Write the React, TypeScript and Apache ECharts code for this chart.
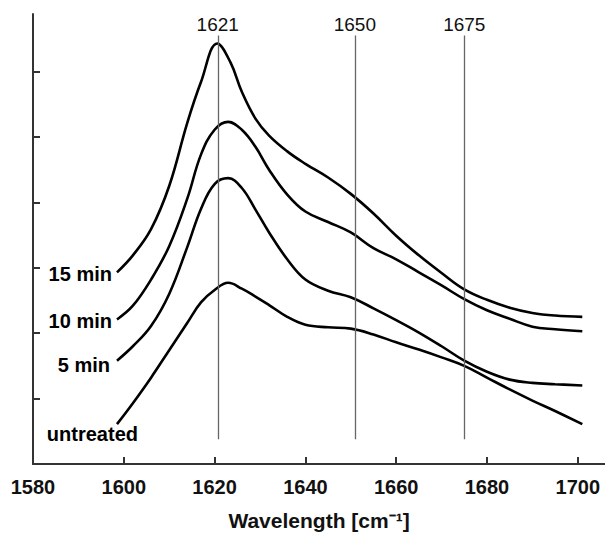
import React, { useEffect, useRef } from "react";
import * as echarts from "echarts";

const xTickLabels = [1580, 1600, 1620, 1640, 1660, 1680, 1700];
const xTickMarks = [1600, 1620, 1640, 1660, 1680, 1700];
const yTickMarks = [1, 2, 3, 4, 5, 6];

const refLineX = [1620.7, 1650.9, 1675];
const refLineLabels = ["1621", "1650", "1675"];

const seriesNames = ["15 min", "10 min", "5 min", "untreated"];

const min15: number[][] = [
  [1598.5, 2.93], [1602, 3.19], [1606, 3.59], [1610, 4.25], [1614, 5.22], [1617, 5.84],
  [1620.6, 6.43], [1623.5, 6.14], [1626, 5.69], [1629, 5.28],
  [1632, 5.02], [1636, 4.78], [1640, 4.59], [1645, 4.38], [1650, 4.13], [1655, 3.83],
  [1660, 3.49], [1665, 3.19], [1670, 2.92], [1675, 2.67], [1680, 2.51], [1685, 2.39],
  [1690, 2.31], [1695, 2.27], [1701, 2.25],
];

const min10: number[][] = [
  [1598.5, 2.21], [1602, 2.42], [1606, 2.82], [1610, 3.33], [1614, 4.06], [1617, 4.73],
  [1620, 5.11], [1623, 5.23], [1626, 5.11], [1629, 4.85], [1632, 4.5], [1636, 4.12],
  [1640, 3.86], [1645, 3.7], [1650, 3.54], [1655, 3.3], [1660, 3.13], [1665, 2.93],
  [1670, 2.73], [1675, 2.52], [1680, 2.35], [1685, 2.22], [1690, 2.1], [1695, 2.06],
  [1701, 2.03],
];

const min5: number[][] = [
  [1598.5, 1.58], [1602, 1.8], [1606, 2.11], [1610, 2.6], [1614, 3.32], [1617, 3.9],
  [1620, 4.28], [1623, 4.37], [1626, 4.22], [1629, 3.89], [1632, 3.54], [1636, 3.13],
  [1640, 2.82], [1645, 2.65], [1650, 2.55], [1655, 2.38], [1660, 2.2], [1665, 2.01],
  [1670, 1.8], [1675, 1.58], [1680, 1.41], [1685, 1.29], [1690, 1.24], [1695, 1.22],
  [1701, 1.2],
];

const untreated: number[][] = [
  [1598.5, 0.61], [1602, 0.93], [1606, 1.32], [1610, 1.74], [1614, 2.16], [1617, 2.47],
  [1620, 2.66], [1623, 2.77], [1626, 2.68], [1629, 2.56], [1632, 2.43], [1636, 2.25],
  [1640, 2.13], [1645, 2.09], [1650, 2.07], [1655, 1.98], [1660, 1.86], [1665, 1.75],
  [1670, 1.63], [1675, 1.5], [1680, 1.32], [1685, 1.14], [1690, 0.97], [1695, 0.81],
  [1701, 0.61],
];

const allSeries = [min15, min10, min5, untreated];
const labelOffsets = [[0, 2], [0, 2], [-2, 4], [26, 10]];

const FONT = "'Liberation Sans', Arial, sans-serif";

export default function App() {
  const ref = useRef<HTMLDivElement>(null);
  useEffect(() => {
    if (!ref.current) return;
    const chart = echarts.init(ref.current, null, { renderer: "svg" });
    const series: any[] = allSeries.map((pts, si) => ({
      type: "line",
      name: seriesNames[si],
      smooth: 0.4,
      symbol: "circle",
      symbolSize: 0,
      showSymbol: true,
      showAllSymbol: true,
      lineStyle: { color: "#000", width: 2.6 },
      itemStyle: { color: "#000" },
      label: { show: false },
      emphasis: { disabled: true },
      data: pts.map((p, i) =>
        i === 0
          ? {
              value: p,
              label: {
                show: true,
                position: "left",
                distance: 5,
                offset: labelOffsets[si],
                formatter: seriesNames[si],
                fontFamily: FONT,
                fontWeight: "bold",
                fontSize: 20,
                color: "#000",
              },
            }
          : { value: p }
      ),
    }));
    series[3].markLine = {
      silent: true,
      symbol: "none",
      animation: false,
      lineStyle: { color: "#666", width: 1.3, type: "solid" },
      label: {
        show: true,
        position: "end",
        distance: 2,
        formatter: (p: any) => refLineLabels[p.dataIndex],
        fontFamily: FONT,
        fontSize: 19,
        color: "#111",
      },
      data: refLineX.map((x) => [{ coord: [x, 0.38] }, { coord: [x, 6.55] }]),
    };
    chart.setOption({
      animation: false,
      grid: { left: 33, right: 0, top: 14, bottom: 71, containLabel: false },
      xAxis: {
        type: "value",
        min: 1580,
        max: 1706,
        interval: 20,
        name: "Wavelength [cm⁻¹]",
        nameLocation: "middle",
        nameGap: 46,
        nameTextStyle: { fontFamily: FONT, fontWeight: "bold", fontSize: 21, color: "#111" },
        axisLine: { lineStyle: { color: "#333", width: 2 } },
        axisTick: { inside: true, length: 7, customValues: xTickMarks, lineStyle: { color: "#333", width: 2 } },
        axisLabel: {
          customValues: xTickLabels,
          formatter: (v: number) => String(v),
          margin: 13,
          fontFamily: FONT,
          fontWeight: "bold",
          fontSize: 20,
          color: "#111",
        },
        splitLine: { show: false },
      },
      yAxis: {
        type: "value",
        min: 0,
        max: 6.88,
        interval: 1,
        axisLine: { show: true, lineStyle: { color: "#333", width: 2 } },
        axisTick: { show: true, inside: true, length: 7, customValues: yTickMarks, lineStyle: { color: "#333", width: 2 } },
        axisLabel: { show: false },
        splitLine: { show: false },
      },
      series,
    });
    return () => chart.dispose();
  }, []);
  return (
    <div
      ref={ref}
      style={{ position: "fixed", left: 0, top: 0, width: 605, height: 536, background: "#fff" }}
    />
  );
}
